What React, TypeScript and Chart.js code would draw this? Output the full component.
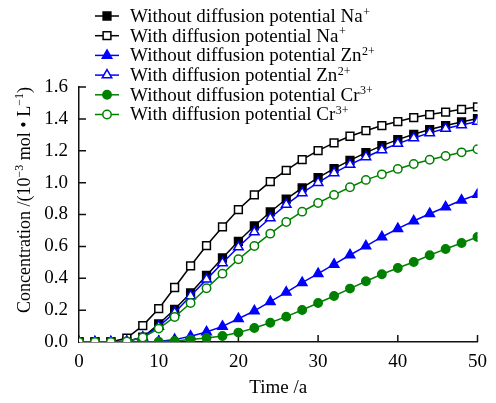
import React, { useEffect, useRef } from "react";
import { Chart, registerables } from "chart.js";

Chart.register(...registerables);

const years = [0, 2, 4, 6, 8, 10, 12, 14, 16, 18, 20, 22, 24, 26, 28, 30, 32, 34, 36, 38, 40, 42, 44, 46, 48, 50];

const naWithout = [0, 0, 0, 0.005, 0.03, 0.113, 0.205, 0.308, 0.418, 0.527, 0.632, 0.728, 0.816, 0.897, 0.967, 1.031, 1.088, 1.14, 1.188, 1.232, 1.27, 1.303, 1.333, 1.358, 1.381, 1.402];
const naWith = [0, 0, 0, 0.025, 0.103, 0.209, 0.342, 0.477, 0.605, 0.722, 0.831, 0.923, 1.006, 1.077, 1.144, 1.201, 1.249, 1.291, 1.326, 1.358, 1.383, 1.408, 1.427, 1.443, 1.46, 1.475];
const znWithout = [0, 0, 0, 0, 0, 0.003, 0.015, 0.036, 0.063, 0.098, 0.146, 0.195, 0.253, 0.312, 0.372, 0.429, 0.487, 0.546, 0.602, 0.659, 0.711, 0.759, 0.805, 0.847, 0.889, 0.925];
const znWith = [0, 0, 0, 0.004, 0.03, 0.098, 0.184, 0.289, 0.393, 0.496, 0.596, 0.69, 0.778, 0.862, 0.935, 1.0, 1.061, 1.113, 1.161, 1.205, 1.245, 1.28, 1.312, 1.339, 1.362, 1.383];
const crWithout = [0, 0, 0, 0, 0, 0.002, 0.007, 0.015, 0.025, 0.038, 0.059, 0.088, 0.121, 0.159, 0.201, 0.245, 0.289, 0.335, 0.381, 0.425, 0.464, 0.502, 0.544, 0.584, 0.621, 0.659];
const crWith = [0, 0, 0, 0.004, 0.028, 0.084, 0.157, 0.245, 0.337, 0.429, 0.519, 0.602, 0.68, 0.753, 0.818, 0.872, 0.923, 0.971, 1.017, 1.052, 1.086, 1.117, 1.144, 1.167, 1.19, 1.209];

const seriesNames = [
  "Without diffusion potential Na",
  "With diffusion potential Na",
  "Without diffusion potential Zn",
  "With diffusion potential Zn",
  "Without diffusion potential Cr",
  "With diffusion potential Cr",
];
const seriesCharges = ["+", "+", "2+", "2+", "3+", "3+"];
const seriesValues = [naWithout, naWith, znWithout, znWith, crWithout, crWith];
const seriesColors = ["#000000", "#000000", "#0000ff", "#0000ff", "#008000", "#008000"];
const seriesFilled = [true, false, true, false, true, false];
const seriesShapes = ["rect", "rect", "triangle", "triangle", "circle", "circle"];
const seriesRadius = [5.5, 5.5, 5.5, 5.5, 4.2, 4.2];

const xTicks = [10, 20, 30, 40, 50];
const yTicks = [0.2, 0.4, 0.6, 0.8, 1.0, 1.2, 1.4, 1.6];

// y-axis title pieces: [text, isSuperscript]
const yTitleParts: [string, boolean][] = [
  ["Concentration /(10", false],
  ["\u22123", true],
  [" mol \u2022 L", false],
  ["\u22121", true],
  [")", false],
];

const FONT = '"Liberation Serif", "Times New Roman", serif';

function drawMarker(ctx: CanvasRenderingContext2D, shape: string, x: number, y: number, r: number) {
  ctx.beginPath();
  if (shape === "rect") {
    const s = Math.SQRT1_2 * r;
    ctx.rect(x - s, y - s, 2 * s, 2 * s);
  } else if (shape === "triangle") {
    ctx.moveTo(x, y - r);
    ctx.lineTo(x + 0.866 * r, y + 0.5 * r);
    ctx.lineTo(x - 0.866 * r, y + 0.5 * r);
    ctx.closePath();
  } else {
    ctx.arc(x, y, r, 0, Math.PI * 2);
  }
  ctx.fill();
  ctx.stroke();
}

const inwardTicks = {
  id: "inwardTicks",
  beforeDatasetsDraw(chart: any) {
    const ctx = chart.ctx as CanvasRenderingContext2D;
    const xs = chart.scales.x;
    const ys = chart.scales.y;
    const area = chart.chartArea;
    ctx.save();
    ctx.strokeStyle = "#111";
    ctx.lineWidth = 1.5;
    ctx.beginPath();
    xTicks.forEach((t) => {
      const px = xs.getPixelForValue(t);
      ctx.moveTo(px, area.bottom);
      ctx.lineTo(px, area.bottom - 7);
    });
    yTicks.forEach((t) => {
      const py = ys.getPixelForValue(t);
      ctx.moveTo(area.left, py);
      ctx.lineTo(area.left + 7, py);
    });
    ctx.stroke();
    ctx.restore();
  },
};

const yTitle = {
  id: "yTitle",
  afterDraw(chart: any) {
    const ctx = chart.ctx as CanvasRenderingContext2D;
    ctx.save();
    const main = `18px ${FONT}`;
    const sup = `12px ${FONT}`;
    let total = 0;
    yTitleParts.forEach(([t, s]) => {
      ctx.font = s ? sup : main;
      total += ctx.measureText(t).width;
    });
    ctx.translate(30, 200);
    ctx.rotate(-Math.PI / 2);
    ctx.fillStyle = "#000";
    ctx.textBaseline = "alphabetic";
    ctx.textAlign = "left";
    let x = -total / 2;
    yTitleParts.forEach(([t, s]) => {
      ctx.font = s ? sup : main;
      ctx.fillText(t, x, s ? -7 : 0);
      x += ctx.measureText(t).width;
    });
    ctx.restore();
  },
};

const customLegend = {
  id: "customLegend",
  afterDraw(chart: any) {
    const ctx = chart.ctx as CanvasRenderingContext2D;
    ctx.save();
    seriesNames.forEach((name, i) => {
      const y = 16 + i * 19.7;
      ctx.strokeStyle = seriesColors[i];
      ctx.lineWidth = 1.5;
      ctx.beginPath();
      ctx.moveTo(95, y);
      ctx.lineTo(119, y);
      ctx.stroke();
      ctx.fillStyle = seriesFilled[i] ? seriesColors[i] : "#ffffff";
      drawMarker(ctx, seriesShapes[i], 107, y, seriesRadius[i]);
      ctx.fillStyle = "#000";
      ctx.textBaseline = "middle";
      ctx.textAlign = "left";
      ctx.font = `19px ${FONT}`;
      ctx.fillText(name, 130, y + 1);
      const w = ctx.measureText(name).width;
      ctx.font = `12px ${FONT}`;
      ctx.fillText(seriesCharges[i], 130 + w + 0.5, y - 3.5);
    });
    ctx.restore();
  },
};

export default function App() {
  const ref = useRef<HTMLCanvasElement>(null);
  useEffect(() => {
    Chart.defaults.font.family = FONT;
    Chart.defaults.color = "#000";
    const datasets = seriesNames.map((name, i) => ({
      label: name + seriesCharges[i],
      data: years.map((x, k) => ({ x, y: seriesValues[i][k] })),
      borderColor: seriesColors[i],
      backgroundColor: seriesFilled[i] ? seriesColors[i] : "#ffffff",
      pointBackgroundColor: seriesFilled[i] ? seriesColors[i] : "#ffffff",
      pointBorderColor: seriesColors[i],
      pointStyle: seriesShapes[i],
      pointRadius: seriesRadius[i],
      pointBorderWidth: 1.5,
      borderWidth: 1.5,
      tension: 0,
      fill: false,
      order: seriesNames.length - i,
    }));
    const chart = new Chart(ref.current!, {
      type: "line",
      data: { datasets } as any,
      options: {
        animation: false,
        responsive: false,
        layout: { padding: { top: 87, right: 17, left: 0, bottom: 0 } },
        plugins: { legend: { display: false }, tooltip: { enabled: false } },
        scales: {
          x: {
            type: "linear",
            min: 0,
            max: 50,
            afterFit: (s: any) => { s.height = 61; },
            grid: { display: true, drawOnChartArea: false, drawTicks: false },
            border: { display: true, color: "#111", width: 1.5 },
            ticks: { stepSize: 10, padding: 9, font: { size: 19 }, color: "#000" },
            title: { display: true, text: "Time /a", font: { size: 19 }, color: "#000", padding: { top: 0, bottom: 4 } },
          },
          y: {
            type: "linear",
            min: 0,
            max: 1.6,
            afterFit: (s: any) => { s.width = 79; },
            grid: { display: true, drawOnChartArea: false, drawTicks: false },
            border: { display: true, color: "#111", width: 1.5 },
            ticks: { stepSize: 0.2, padding: 11, font: { size: 19 }, color: "#000", callback: (v: any) => Number(v).toFixed(1) },
            title: { display: false },
          },
        },
      },
      plugins: [inwardTicks, customLegend, yTitle],
    } as any);
    return () => chart.destroy();
  }, []);
  return (
    <div style={{ position: "absolute", left: 0, top: 0, width: 496, height: 403, background: "#fff" }}>
      <canvas ref={ref} width={496} height={403} />
    </div>
  );
}
